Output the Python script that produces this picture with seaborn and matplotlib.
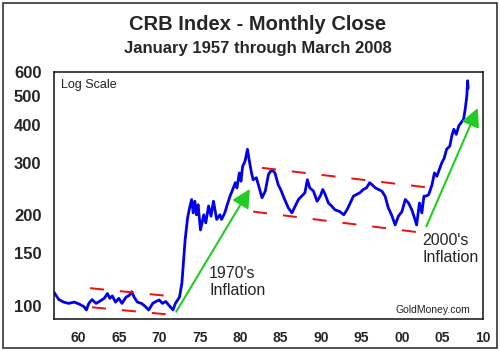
import seaborn as sns
import matplotlib.pyplot as plt
import matplotlib.ticker as mticker
from matplotlib.patches import Rectangle
import pandas as pd

# monthly close (decimal year, index value)
years = [1957.0, 1957.3, 1957.6, 1958.2, 1958.8, 1959.5, 1960.1, 1960.7, 1961.0, 1961.3,
         1961.7, 1962.2, 1962.6, 1963.2, 1963.6, 1963.9, 1964.2, 1964.6, 1965.0, 1965.4,
         1965.9, 1966.3, 1966.6, 1966.9, 1967.3, 1967.8, 1968.3, 1968.7, 1969.2, 1969.6,
         1970.0, 1970.4, 1970.8, 1971.2, 1971.7, 1972.0, 1972.5, 1972.8, 1973.2, 1973.5,
         1973.7, 1974.0, 1974.2, 1974.4, 1974.6, 1974.8, 1975.1, 1975.5, 1975.75, 1976.1,
         1976.4, 1976.7, 1977.1, 1977.5, 1977.7, 1978.1, 1978.4, 1978.75, 1979.0, 1979.4,
         1979.6, 1979.9, 1980.1, 1980.3, 1980.6, 1980.9, 1981.1, 1981.4, 1981.6, 1982.0,
         1982.25, 1982.7, 1983.1, 1983.5, 1983.9, 1984.3, 1984.7, 1985.0, 1985.5, 1985.95,
         1986.4, 1986.8, 1987.2, 1987.6, 1988.0, 1988.3, 1988.6, 1989.05, 1989.5, 1989.9,
         1990.2, 1990.5, 1990.9, 1991.3, 1991.7, 1992.3, 1992.8, 1993.2, 1993.6, 1994.0,
         1994.4, 1994.8, 1995.2, 1995.6, 1996.0, 1996.3, 1996.7, 1997.1, 1997.5, 1997.9,
         1998.3, 1998.7, 1999.15, 1999.55, 1999.98, 2000.4, 2000.8, 2001.2, 2001.6, 2001.8,
         2002.15, 2002.45, 2002.7, 2003.0, 2003.3, 2003.7, 2004.0, 2004.3, 2004.6, 2004.9,
         2005.2, 2005.5, 2005.9, 2006.15, 2006.4, 2006.7, 2007.0, 2007.3, 2007.6, 2007.8,
         2008.0, 2008.1, 2008.17]
crb = [111, 108, 105, 103, 102, 103, 101.5, 99.5, 97, 102,
       105, 102, 103.5, 106, 110, 106, 108, 103, 106, 102,
       107, 108.5, 111.5, 107, 103, 102, 99.5, 97, 102, 103.5,
       104.7, 102, 103.5, 100.5, 97, 102, 107, 119, 166, 196,
       209, 226, 204, 223, 201, 217, 179, 201, 189, 215,
       199, 223, 194, 201, 194, 204, 217, 232, 241, 257,
       247, 277, 260, 291, 303, 332, 307, 277, 263, 267,
       253, 229, 241, 274, 284, 277, 253, 244, 226, 212,
       204, 215, 226, 232, 238, 263, 247, 241, 223, 232,
       244, 235, 220, 215, 209, 206, 201, 209, 220, 232,
       235, 238, 244, 247, 257, 253, 247, 244, 241, 232,
       212, 201, 186, 199, 206, 226, 220, 209, 194, 186,
       220, 204, 232, 232, 235, 253, 277, 270, 284, 299,
       310, 332, 340, 368, 387, 372, 397, 407, 418, 451,
       499, 561, 530]

# channel lines (start/end year, start/end value)
chan_up_60s = ([1961.45, 1970.6], [114.6, 108.3])
chan_lo_60s = ([1961.7, 1970.9], [99, 93.8])
chan_up_80s = ([1982.7, 2003.05], [288, 248])
chan_lo_80s = ([1981.6, 2001.9], [206, 176])

# arrows (tail, tip)
arrow_70s = ((1972.1, 95.7), (1981.2, 245))
arrow_00s = ((2003.0, 184), (2009.35, 455))

yticks = [100, 150, 200, 300, 400, 500, 600]

sns.set_theme(style="white")
plt.rcParams['font.family'] = ['Liberation Sans', 'DejaVu Sans']

df = pd.DataFrame({"year": years, "crb": crb})

fig = plt.figure(figsize=(5, 3.51), dpi=100)
ax = fig.add_axes([54 / 500, 1 - 319 / 351, 429 / 500, 247 / 351])

sns.lineplot(data=df, x="year", y="crb", ax=ax, color="#0000ee", lw=2.0)

red = "#ee1111"
for xs, ys in [chan_up_60s, chan_lo_60s, chan_up_80s, chan_lo_80s]:
    ax.plot(xs, ys, color=red, lw=1.44, linestyle=(0, (7, 8)))

green = "#22cc22"
for tail, tip in [arrow_70s, arrow_00s]:
    ax.annotate("", xy=tip, xytext=tail,
                arrowprops=dict(arrowstyle="-|>,head_length=0.55,head_width=0.28",
                                color=green, lw=1.5, mutation_scale=20,
                                shrinkA=0, shrinkB=0))

ax.set_yscale("log")
ax.set_ylim(90.5, 600)
ax.set_xlim(1957, 2010)
ax.yaxis.set_major_locator(mticker.FixedLocator(yticks))
ax.yaxis.set_major_formatter(mticker.FixedFormatter([str(v) for v in yticks]))
ax.yaxis.set_minor_locator(mticker.NullLocator())
ax.xaxis.set_major_locator(mticker.MultipleLocator(5))
ax.xaxis.set_minor_locator(mticker.MultipleLocator(1))
ax.xaxis.set_major_formatter(mticker.FuncFormatter(lambda v, p: "%02d" % (int(round(v)) % 100)))
ax.tick_params(axis="y", which="major", direction="out", length=4, width=1,
               labelsize=12, pad=5, color="#333333")
ax.tick_params(axis="x", which="both", direction="out", length=5, width=1,
               labelsize=10, pad=4, color="#333333")
for lab in ax.get_yticklabels() + ax.get_xticklabels():
    lab.set_fontweight("bold")
ax.set_xlabel("")
ax.set_ylabel("")
for s in ax.spines.values():
    s.set_color("#111111")
    s.set_linewidth(1.1)

ax.text(0.016, 0.947, "Log Scale", transform=ax.transAxes, fontsize=9,
        ha="left", va="center", color="#222222")
ax.text(0.97, 0.038, "GoldMoney.com", transform=ax.transAxes, fontsize=7.5,
        ha="right", va="center", color="#222222")
ax.text(1976.16, 120.3, "1970's\nInflation", fontsize=11.5, ha="left", va="center",
        linespacing=1.15)
ax.text(2002.5, 154.5, "2000's\nInflation", fontsize=11.5, ha="left", va="center",
        linespacing=1.15)

fig.text(0.515, 1 - 24.5 / 351, "CRB Index - Monthly Close", ha="center", va="center",
         fontsize=14.5, fontweight="bold")
fig.text(0.515, 1 - 48 / 351, "January 1957 through March 2008", ha="center", va="center",
         fontsize=12, fontweight="bold")

fig.patches.append(Rectangle((3 / 500, 3 / 351), 494 / 500, 345 / 351, transform=fig.transFigure,
                             fill=False, edgecolor="#333333", lw=1.2))

fig.savefig("out.png", dpi=100)
